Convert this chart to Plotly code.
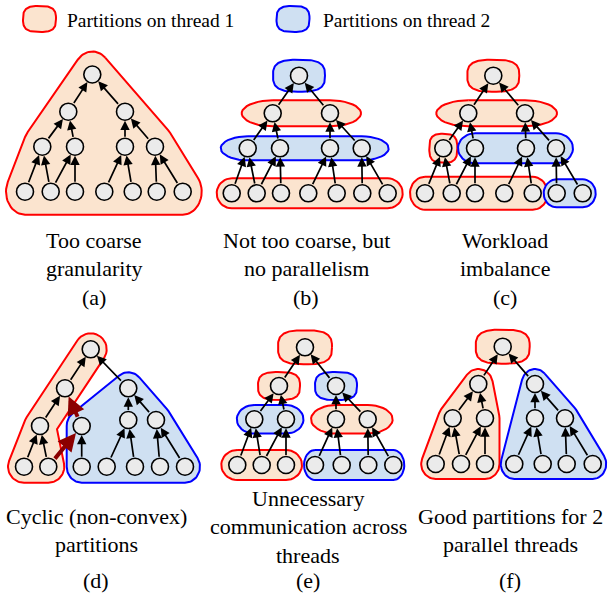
import numpy as np
import plotly.graph_objects as go

# ---------------- data ----------------
# node order: 0 root, 1 L, 2 R, 3 LL, 4 LR, 5 RL, 6 RR, 7..13 leaves
edges = [(1, 0), (2, 0), (3, 1), (4, 1), (5, 2), (6, 2),
         (7, 3), (8, 3), (8, 4), (9, 4), (10, 5), (11, 5), (12, 6), (13, 6)]

panel_a_x = [92.3, 68.3, 125, 42.3, 75, 125, 155, 25, 50.7, 75, 104.3, 132.7, 156.7, 182.7]
panel_a_y = [74.5, 111.7, 111.7, 146.7, 146.7, 146.7, 146.7] + [191.7] * 7
panel_b_x = [299, 272.7, 330, 247.7, 280, 330, 361.7, 231.7, 256.7, 281, 308.3, 336.7, 362.3, 387.7]
panel_b_y = [75.7, 113.3, 113.3, 148.3, 148.3, 148.3, 148.3] + [193.3] * 7
panel_c_x = [493.3, 468.3, 525, 443.3, 475, 526, 556, 425, 451.7, 475, 504.3, 532.7, 556.7, 582.7]
panel_c_y = [75.7, 113.3, 113.3, 148.3, 148.3, 148.3, 148.3] + [193.3] * 7
panel_d_x = [90.7, 65, 128.3, 40, 81.7, 128.3, 156, 24, 48.3, 81.7, 106.7, 135, 160, 185]
panel_d_y = [349.3, 388.3, 388.3, 426, 426, 420, 420] + [466.7] * 7
panel_e_x = [305, 279, 336, 254.3, 286, 336, 367.7, 237.3, 261.7, 286, 315, 341.7, 368.3, 393.3]
panel_e_y = [347.3, 386, 386, 419.3, 419.3, 419.3, 419.3] + [465] * 7
panel_f_x = [502.7, 478.3, 535, 452.7, 485, 535, 565, 435.7, 461, 485, 514.3, 542.7, 566.7, 592.7]
panel_f_y = [346.7, 384, 384, 418.3, 418.3, 418.3, 418.3] + [464] * 7

panels = {
    "a": (panel_a_x, panel_a_y), "b": (panel_b_x, panel_b_y), "c": (panel_c_x, panel_c_y),
    "d": (panel_d_x, panel_d_y), "e": (panel_e_x, panel_e_y), "f": (panel_f_x, panel_f_y),
}

# partitions: panel, thread, outline node order, (padx, pady)
partitions = [
    ("a", 1, [0, 3, 7, 13, 6], 19, 23),
    ("b", 2, [0], 26, 16), ("b", 1, [1, 2], 31, 13), ("b", 2, [3, 6], 27, 12), ("b", 1, [7, 13], 15, 15),
    ("c", 1, [0], 26, 16), ("c", 1, [1, 2], 32, 13), ("c", 1, [3], 14, 14.5), ("c", 2, [4, 6], 17, 15),
    ("c", 1, [7, 11], 15, 16.5), ("c", 2, [12, 13], 13, 14),
    ("d", 1, [0, 3, 7, 8, 3], 16, 16), ("d", 2, [2, 4, 9, 13, 6], 15, 16),
    ("e", 1, [0], 27, 17), ("e", 1, [1], 21, 14), ("e", 2, [2], 21, 14), ("e", 2, [3, 4], 17.5, 14.3),
    ("e", 1, [5, 6], 25, 14.3), ("e", 1, [7, 9], 16, 15), ("e", 2, [10, 13], 11, 15),
    ("f", 1, [0], 27, 17), ("f", 1, [1, 3, 7, 9, 4], 14.5, 15), ("f", 2, [2, 10, 13, 6], 13.5, 15),
]

# cross-thread dependency arrows in (d): (child, parent)
cyclic_edges_d = [(8, 4), (4, 1)]

captions = {
    "a": ["Too coarse", "granularity", "(a)"],
    "b": ["Not too coarse, but", "no parallelism", "(b)"],
    "c": ["Workload", "imbalance", "(c)"],
    "d": ["Cyclic (non-convex)", "partitions", "(d)"],
    "e": ["Unnecessary", "communication across", "threads", "(e)"],
    "f": ["Good partitions for 2", "parallel threads", "(f)"],
}
legend_labels = ["Partitions on thread 1", "Partitions on thread 2"]

# ---------------- style ----------------
W, H = 610, 595
FILL = {1: "#fbe4cf", 2: "#cfe0f2"}
EDGE = {1: "#ff0000", 2: "#0000ff"}
NODE_R = 8.5
SERIF = "Liberation Serif"


def superellipse(cx, cy, rx, ry, n=3.0, k=120):
    t = np.linspace(0, 2 * np.pi, k)
    c, s = np.cos(t), np.sin(t)
    e = 2.0 / n
    return cx + rx * np.sign(c) * np.abs(c) ** e, cy + ry * np.sign(s) * np.abs(s) ** e


def outline(px, py, padx, pady, k=20):
    if len(px) == 1:
        return superellipse(px[0], py[0], padx, pady)
    sc = pady / padx
    P = np.column_stack([np.array(px) * sc, np.array(py)])
    r = pady
    m = len(P)
    out = []
    for i in range(m):
        prev, cur, nxt = P[i - 1], P[i], P[(i + 1) % m]
        d1 = cur - prev
        d1 = d1 / np.hypot(*d1)
        d2 = nxt - cur
        d2 = d2 / np.hypot(*d2)
        n1 = np.array([-d1[1], d1[0]])
        n2 = np.array([-d2[1], d2[0]])
        cross = d1[0] * d2[1] - d1[1] * d2[0]
        if cross > 1e-9:
            a = r * (n1 + n2) / (1 + n1 @ n2)
            out.append(cur + a)
        else:
            a1 = np.arctan2(n1[1], n1[0])
            a2 = np.arctan2(n2[1], n2[0])
            sweep = (a1 - a2) % (2 * np.pi)
            if sweep < 1e-6 or sweep > 2 * np.pi - 1e-6:
                out.append(cur + r * n1)
            else:
                for t in np.linspace(0, sweep, k):
                    ang = a1 - t
                    out.append(cur + r * np.array([np.cos(ang), np.sin(ang)]))
    out.append(out[0])
    out = np.array(out)
    return out[:, 0] / sc, out[:, 1]


fig = go.Figure()

# partitions
for pan, th, order, padx, pady in partitions:
    xs, ys = panels[pan]
    ox, oy = outline([xs[i] for i in order], [ys[i] for i in order], padx, pady)
    fig.add_trace(go.Scatter(x=ox, y=oy, mode="lines", fill="toself", fillcolor=FILL[th],
                             line=dict(color=EDGE[th], width=2), hoverinfo="skip"))

# legend blobs
for i, (lx, tx) in enumerate([(39.5, 65), (293, 321)]):
    bx, by = superellipse(lx, 19, 16.5, 13)
    fig.add_trace(go.Scatter(x=bx, y=by, mode="lines", fill="toself", fillcolor=FILL[i + 1],
                             line=dict(color=EDGE[i + 1], width=2), hoverinfo="skip"))
    fig.add_annotation(x=tx, y=20, text=legend_labels[i], showarrow=False, xanchor="left",
                       yanchor="middle", font=dict(family=SERIF, size=19.5, color="black"))

# nodes
for pan, (xs, ys) in panels.items():
    fig.add_trace(go.Scatter(x=xs, y=ys, mode="markers", hoverinfo="skip",
                             marker=dict(size=2 * NODE_R, color="#ebebeb",
                                         line=dict(color="black", width=1.6))))

# edges (arrows child -> parent)
for pan, (xs, ys) in panels.items():
    for c, p in edges:
        red = pan == "d" and (c, p) in cyclic_edges_d
        fig.add_annotation(x=xs[p], y=ys[p], ax=xs[c], ay=ys[c], xref="x", yref="y",
                           axref="x", ayref="y", text="", showarrow=True,
                           arrowhead=2, arrowsize=0.9 if red else 1.1,
                           arrowwidth=4 if red else 1.7,
                           arrowcolor="#8b0000" if red else "black",
                           standoff=NODE_R + 0.5, startstandoff=NODE_R)

# captions
cap_pos = {"a": (94, 240), "b": (306, 240), "c": (505, 240),
           "d": (96, 516), "e": (308, 498), "f": (510, 516)}
for pan, lines in captions.items():
    cx, cy = cap_pos[pan]
    for j, t in enumerate(lines):
        y = cy + 28.5 * j
        if t.startswith("("):
            y = 297 if cy < 300 else 580
        fig.add_annotation(x=cx, y=y, text=t, showarrow=False, xanchor="center", yanchor="middle",
                           font=dict(family=SERIF, size=22, color="black"))

fig.update_layout(width=W, height=H, margin=dict(l=0, r=0, t=0, b=0),
                  paper_bgcolor="white", plot_bgcolor="white", showlegend=False,
                  xaxis=dict(range=[0, W], visible=False, fixedrange=True),
                  yaxis=dict(range=[H, 0], visible=False, fixedrange=True))
fig.write_html("out.html", config={"displayModeBar": False, "staticPlot": True},
               post_script="document.body.style.margin='0';document.body.style.overflow='hidden';")
